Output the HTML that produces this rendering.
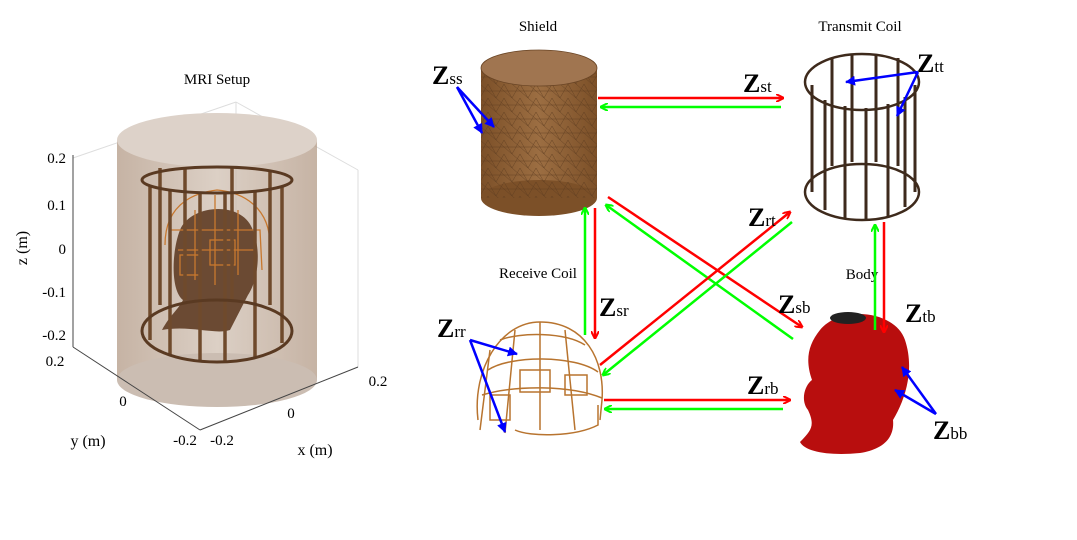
<!DOCTYPE html>
<html><head><meta charset="utf-8"><style>
html,body{margin:0;padding:0;background:#fff;width:1077px;height:540px;overflow:hidden}
svg{display:block;font-family:"Liberation Serif",serif}
</style></head><body>
<svg width="1077" height="540" viewBox="0 0 1077 540">
<defs>
<marker id="ar" markerWidth="8" markerHeight="8" refX="7" refY="4" orient="auto" markerUnits="userSpaceOnUse"><path d="M0,0 L8,4 L0,8" fill="none" stroke="#f00" stroke-width="2"/></marker>
<marker id="ag" markerWidth="8" markerHeight="8" refX="7" refY="4" orient="auto" markerUnits="userSpaceOnUse"><path d="M0,0 L8,4 L0,8" fill="none" stroke="#0f0" stroke-width="2"/></marker>
<marker id="ab" markerWidth="10" markerHeight="10" refX="9" refY="5" orient="auto" markerUnits="userSpaceOnUse"><path d="M0,0 L10,5 L0,10 Z" fill="#00f"/></marker>
<linearGradient id="cyl" x1="0" x2="1"><stop offset="0" stop-color="#b39a86"/><stop offset="0.5" stop-color="#d0c0b2"/><stop offset="1" stop-color="#b39a86"/></linearGradient>
<linearGradient id="sh" x1="0" x2="1"><stop offset="0" stop-color="#7c5028"/><stop offset="0.5" stop-color="#9c6e42"/><stop offset="1" stop-color="#7c5028"/></linearGradient>
<pattern id="mesh" width="16" height="14" patternUnits="userSpaceOnUse"><path d="M0,0 L16,14 M0,14 L8,0 L16,14 M0,7 H16" stroke="#5a3a1e" stroke-width="0.4" fill="none"/></pattern>
</defs>

<g>
<text x="217" y="84" font-size="15" text-anchor="middle">MRI Setup</text>
<g stroke="#ddd" stroke-width="1" fill="none">
<line x1="236" y1="102" x2="236" y2="310"/><line x1="358" y1="170" x2="358" y2="367"/>
<line x1="73" y1="158" x2="236" y2="102"/><line x1="236" y1="102" x2="358" y2="170"/>
</g>
<rect x="117" y="140" width="200" height="240" fill="url(#cyl)" opacity="0.75"/>
<ellipse cx="217" cy="380" rx="100" ry="27" fill="#cbbdb2"/>
<ellipse cx="217" cy="140" rx="100" ry="27" fill="#ddd2c9"/>
<path d="M183,300 C170,290 172,250 180,230 C190,205 240,200 252,228 C262,250 258,280 248,295 L230,330 C215,335 190,325 162,330 C170,315 178,310 183,300Z" fill="#6b4a33"/>
<g stroke="#c8782e" stroke-width="1.3" fill="none">
<path d="M165,245 C165,200 200,192 217,190 C240,192 272,205 270,250"/>
<path d="M170,270 L170,230 L260,230 L262,270"/><path d="M178,250 H255 M195,210 V280 M215,195 V285 M238,210 V275"/>
<rect x="210" y="240" width="25" height="25"/><rect x="180" y="255" width="20" height="20"/>
</g>
<g stroke="#6f4a2c" stroke-width="3.5">
<line x1="150" y1="186" x2="150" y2="340"/><line x1="170" y1="190" x2="170" y2="355"/><line x1="200" y1="193" x2="200" y2="362"/><line x1="225" y1="193" x2="225" y2="362"/><line x1="255" y1="191" x2="255" y2="357"/><line x1="282" y1="186" x2="282" y2="343"/>
<line x1="160" y1="168" x2="160" y2="305"/><line x1="185" y1="167" x2="185" y2="300"/><line x1="232" y1="167" x2="232" y2="300"/><line x1="270" y1="170" x2="270" y2="305"/>
</g>
<ellipse cx="217" cy="180" rx="75" ry="13" fill="none" stroke="#5a3a22" stroke-width="3"/>
<ellipse cx="217" cy="331" rx="75" ry="31" fill="none" stroke="#5a3a22" stroke-width="3"/>
<g stroke="#444" stroke-width="1" fill="none">
<line x1="73" y1="155" x2="73" y2="347"/><line x1="73" y1="347" x2="200" y2="430"/><line x1="200" y1="430" x2="358" y2="367"/>
</g>
<g font-size="15" text-anchor="end">
<text x="66" y="163">0.2</text><text x="66" y="210">0.1</text><text x="66" y="254">0</text><text x="66" y="297">-0.1</text><text x="66" y="340">-0.2</text>
</g>
<text transform="translate(27,248) rotate(-90)" font-size="16" text-anchor="middle">z (m)</text>
<g font-size="15" text-anchor="middle">
<text x="55" y="366">0.2</text><text x="123" y="406">0</text><text x="185" y="445">-0.2</text></g>
<text x="88" y="446" font-size="16" text-anchor="middle">y (m)</text>
<g font-size="15" text-anchor="middle">
<text x="222" y="445">-0.2</text><text x="291" y="418">0</text><text x="378" y="386">0.2</text></g>
<text x="315" y="455" font-size="16" text-anchor="middle">x (m)</text>
</g>

<g font-size="15" text-anchor="middle">
<text x="538" y="31">Shield</text><text x="860" y="31">Transmit Coil</text><text x="538" y="278">Receive Coil</text><text x="862" y="279">Body</text>
</g>
<g>
<rect x="481" y="68" width="116" height="130" fill="url(#sh)"/>
<ellipse cx="539" cy="198" rx="58" ry="18" fill="#7c5028"/>
<rect x="481" y="68" width="116" height="130" fill="url(#mesh)"/>
<ellipse cx="539" cy="68" rx="58" ry="18" fill="#a07550" stroke="#6a4525" stroke-width="0.8"/>
</g>
<g stroke="#3e2a1c" fill="none">
<g stroke-width="3">
<line x1="812" y1="85" x2="812" y2="192"/><line x1="825" y1="100" x2="825" y2="210"/><line x1="845" y1="106" x2="845" y2="218"/><line x1="866" y1="108" x2="866" y2="220"/><line x1="888" y1="104" x2="888" y2="216"/><line x1="905" y1="97" x2="905" y2="207"/><line x1="915" y1="85" x2="915" y2="192"/>
<line x1="832" y1="58" x2="832" y2="166"/><line x1="852" y1="54" x2="852" y2="162"/><line x1="876" y1="54" x2="876" y2="162"/><line x1="898" y1="58" x2="898" y2="166"/>
</g>
<ellipse cx="862" cy="82" rx="57" ry="28" stroke-width="2.5"/><ellipse cx="862" cy="192" rx="57" ry="28" stroke-width="2.5"/>
</g>
<g stroke="#b8742f" stroke-width="1.5" fill="none">
<path d="M478,420 C472,370 500,322 540,322 C585,322 605,360 602,400 L600,420"/>
<path d="M488,370 C510,355 575,355 598,372 M482,395 C515,385 570,385 602,398 M500,340 C520,332 565,332 585,345"/>
<path d="M540,322 L540,430 M515,330 L505,433 M565,330 L575,430 M490,350 L480,430"/>
<path d="M515,430 C530,437 575,437 598,425 L598,405"/>
<rect x="520" y="370" width="30" height="22"/><rect x="490" y="395" width="20" height="25"/><rect x="565" y="375" width="22" height="20"/>
</g>
<g>
<path d="M820,330 C840,305 895,310 905,340 C915,370 905,400 893,420 C895,440 880,450 860,453 C830,456 805,452 800,442 C812,430 815,425 808,410 C800,400 805,385 812,380 C805,360 808,345 820,330Z" fill="#b80e0e"/>
<ellipse cx="848" cy="318" rx="18" ry="6" fill="#222"/>
</g>

<g stroke-width="2.5">
<line x1="598" y1="98" x2="783" y2="98" stroke="#f00" marker-end="url(#ar)"/>
<line x1="781" y1="107" x2="601" y2="107" stroke="#0f0" marker-end="url(#ag)"/>
<line x1="595" y1="208" x2="595" y2="338" stroke="#f00" marker-end="url(#ar)"/>
<line x1="585" y1="335" x2="585" y2="208" stroke="#0f0" marker-end="url(#ag)"/>
<line x1="608" y1="197" x2="802" y2="327" stroke="#f00" marker-end="url(#ar)"/>
<line x1="793" y1="339" x2="606" y2="205" stroke="#0f0" marker-end="url(#ag)"/>
<line x1="600" y1="365" x2="790" y2="212" stroke="#f00" marker-end="url(#ar)"/>
<line x1="792" y1="222" x2="603" y2="375" stroke="#0f0" marker-end="url(#ag)"/>
<line x1="884" y1="222" x2="884" y2="332" stroke="#f00" marker-end="url(#ar)"/>
<line x1="875" y1="330" x2="875" y2="225" stroke="#0f0" marker-end="url(#ag)"/>
<line x1="604" y1="400" x2="790" y2="400" stroke="#f00" marker-end="url(#ar)"/>
<line x1="783" y1="409" x2="605" y2="409" stroke="#0f0" marker-end="url(#ag)"/>
</g>
<g stroke="#00f" stroke-width="2.5">
<line x1="457" y1="87" x2="494" y2="127" marker-end="url(#ab)"/><line x1="457" y1="87" x2="482" y2="133" marker-end="url(#ab)"/>
<line x1="918" y1="72" x2="846" y2="82" marker-end="url(#ab)"/><line x1="918" y1="72" x2="897" y2="116" marker-end="url(#ab)"/>
<line x1="470" y1="340" x2="517" y2="354" marker-end="url(#ab)"/><line x1="470" y1="340" x2="505" y2="432" marker-end="url(#ab)"/>
<line x1="936" y1="414" x2="902" y2="367" marker-end="url(#ab)"/><line x1="936" y1="414" x2="895" y2="390" marker-end="url(#ab)"/>
</g>
<g font-size="26" font-weight="bold">
<text x="432" y="84">Z<tspan font-size="17" font-weight="normal">ss</tspan></text>
<text x="743" y="92">Z<tspan font-size="17" font-weight="normal">st</tspan></text>
<text x="917" y="72">Z<tspan font-size="17" font-weight="normal">tt</tspan></text>
<text x="748" y="226">Z<tspan font-size="17" font-weight="normal">rt</tspan></text>
<text x="599" y="316">Z<tspan font-size="17" font-weight="normal">sr</tspan></text>
<text x="778" y="313">Z<tspan font-size="17" font-weight="normal">sb</tspan></text>
<text x="905" y="322">Z<tspan font-size="17" font-weight="normal">tb</tspan></text>
<text x="437" y="337">Z<tspan font-size="17" font-weight="normal">rr</tspan></text>
<text x="747" y="394">Z<tspan font-size="17" font-weight="normal">rb</tspan></text>
<text x="933" y="439">Z<tspan font-size="17" font-weight="normal">bb</tspan></text>
</g>
</svg>
</body></html>
